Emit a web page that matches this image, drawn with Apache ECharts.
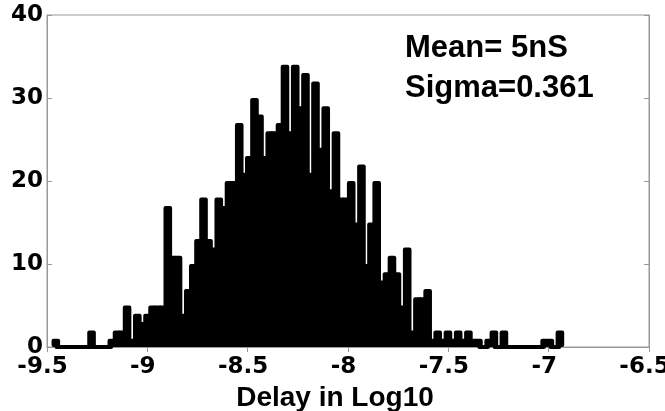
<!DOCTYPE html>
<html>
<head>
<meta charset="utf-8">
<script src="https://cdn.jsdelivr.net/npm/echarts@6/dist/echarts.min.js"></script>
<style>
html,body{margin:0;padding:0;background:#fff;}
#chart{width:665px;height:411px;}
</style>
</head>
<body>
<div id="chart"></div>
<script>
// Histogram bin centres (log10 of delay)
const binCenters = [
 -9.456,-9.431,-9.405,-9.380,-9.354,-9.329,-9.304,-9.278,-9.253,-9.228,
 -9.202,-9.177,-9.151,-9.126,-9.101,-9.075,-9.050,-9.025,-8.999,-8.974,
 -8.948,-8.923,-8.898,-8.872,-8.847,-8.822,-8.796,-8.771,-8.745,-8.720,
 -8.695,-8.669,-8.644,-8.619,-8.593,-8.568,-8.542,-8.517,-8.492,-8.466,
 -8.441,-8.416,-8.390,-8.365,-8.339,-8.314,-8.289,-8.263,-8.238,-8.212,
 -8.187,-8.162,-8.136,-8.111,-8.086,-8.060,-8.035,-8.009,-7.984,-7.959,
 -7.933,-7.908,-7.883,-7.857,-7.832,-7.806,-7.781,-7.756,-7.730,-7.705,
 -7.680,-7.654,-7.629,-7.603,-7.578,-7.553,-7.527,-7.502,-7.476,-7.451,
 -7.426,-7.400,-7.375,-7.350,-7.324,-7.299,-7.273,-7.248,-7.223,-7.197,
 -7.172,-7.147,-7.121,-7.096,-7.070,-7.045,-7.020,-6.994,-6.969,-6.944
];
// Counts per bin
const counts = [
 1,0,0,0,0,0,0,2,0,0,
 0,1,2,2,5,1,4,3,4,5,
 5,5,17,11,11,4,7,10,13,18,
 13,12,18,17,20,20,27,21,23,30,
 28,23,26,26,27,34,26,34,29,33,
 21,32,24,29,19,26,18,18,20,15,
 22,10,15,20,8,9,11,9,5,12,
 2,6,6,7,1,2,1,2,1,2,
 1,2,1,1,0,1,2,0,2,0,
 0,0,0,0,0,0,1,1,0,2
];
const xMin = -9.5, xMax = -6.5, xStep = 0.5;
const yMin = 0, yMax = 40, yStep = 10;
const xTitle = 'Delay in Log10';
const notes = ['Mean= 5nS', 'Sigma=0.361'];

const TICKFONT = 'DejaVu Sans';
const TEXTFONT = '"Liberation Sans", Arial, sans-serif';
const axisGray = '#999999';

const chart = echarts.init(document.getElementById('chart'), null, {renderer: 'canvas'});
const commonTick = {show: true, inside: true, length: 5, lineStyle: {color: axisGray, width: 1}};
chart.setOption({
  animation: false,
  backgroundColor: '#ffffff',
  grid: {left: 47, right: 16, top: 15, bottom: 64, containLabel: false, outerBoundsMode: 'none',
         show: true, borderColor: axisGray, borderWidth: 1, backgroundColor: 'transparent'},
  xAxis: [{
    type: 'value', min: xMin, max: xMax, interval: xStep,
    axisLine: {show: true, lineStyle: {color: axisGray, width: 1}},
    axisTick: commonTick,
    splitLine: {show: false},
    axisLabel: {color: '#000', fontFamily: TICKFONT, fontWeight: 'bold', fontSize: 23, margin: 9,
                padding: [0, 9, 0, 0], formatter: v => String(v)},
    name: xTitle, nameLocation: 'middle', nameGap: 31,
    nameTextStyle: {color: '#000', fontFamily: TEXTFONT, fontWeight: 'bold', fontSize: 28,
                    padding: [0, 26, 0, 0]}
  }, {
    type: 'value', min: xMin, max: xMax, interval: xStep, position: 'top',
    axisLine: {show: true, lineStyle: {color: axisGray, width: 1}},
    axisTick: commonTick, axisLabel: {show: false}, splitLine: {show: false}
  }],
  yAxis: [{
    type: 'value', min: yMin, max: yMax, interval: yStep,
    axisLine: {show: true, lineStyle: {color: axisGray, width: 1}},
    axisTick: commonTick,
    splitLine: {show: false},
    axisLabel: {color: '#000', fontFamily: TICKFONT, fontWeight: 'bold', fontSize: 23, margin: 4}
  }, {
    type: 'value', min: yMin, max: yMax, interval: yStep, position: 'right',
    axisLine: {show: true, lineStyle: {color: axisGray, width: 1}},
    axisTick: commonTick, axisLabel: {show: false}, splitLine: {show: false}
  }],
  graphic: [
    {type: 'text', left: 405, top: 33, silent: true,
     style: {text: notes[0], font: 'bold 31px "Liberation Sans", Arial, sans-serif', fill: '#000'}},
    {type: 'text', left: 405, top: 73, silent: true,
     style: {text: notes[1], font: 'bold 31px "Liberation Sans", Arial, sans-serif', fill: '#000'}}
  ],
  series: [{
    type: 'bar',
    xAxisIndex: 0, yAxisIndex: 0,
    data: binCenters.map((x, i) => [x, counts[i]]),
    barWidth: 8.6,
    silent: true,
    itemStyle: {color: '#000', borderColor: '#000', borderWidth: 4, borderJoin: 'round'}
  }]
});
</script>
</body>
</html>
